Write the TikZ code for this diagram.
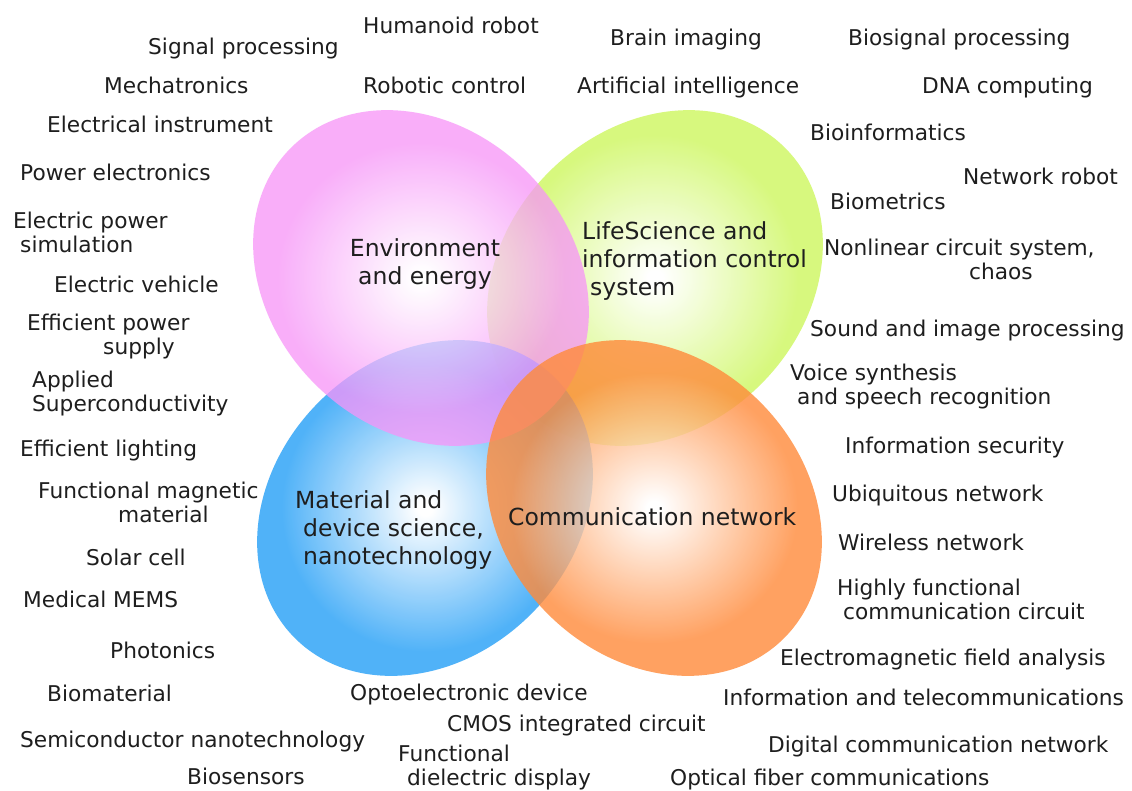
\documentclass[tikz,border=0pt]{standalone}
\usepackage{fontspec}
\setmainfont{DejaVu Sans}

% fill colours of the four research fields
\definecolor{pinkc}{RGB}{247,148,248}
\definecolor{greenc}{RGB}{212,248,116}
\definecolor{bluec}{RGB}{66,172,248}
\definecolor{orangec}{RGB}{255,138,58}
\definecolor{ink}{RGB}{30,30,30}

% soft white-centred glows
\pgfdeclareradialshading{pinkglow}{\pgfpoint{0bp}{0bp}}{color(0bp)=(white); color(1bp)=(white); color(19bp)=(pinkc); color(50bp)=(pinkc)}
\pgfdeclareradialshading{greenglow}{\pgfpoint{0bp}{0bp}}{color(0bp)=(white); color(1bp)=(white); color(19bp)=(greenc); color(50bp)=(greenc)}
\pgfdeclareradialshading{blueglow}{\pgfpoint{0bp}{0bp}}{color(0bp)=(white); color(1bp)=(white); color(19bp)=(bluec); color(50bp)=(bluec)}
\pgfdeclareradialshading{orangeglow}{\pgfpoint{0bp}{0bp}}{color(0bp)=(white); color(1bp)=(white); color(19bp)=(orangec); color(50bp)=(orangec)}

\begin{document}
\begin{tikzpicture}[x=1pt,y=-1pt,
  lbl/.style={inner sep=0pt, anchor=base west, text=ink, font=\fontsize{21.7}{24}\selectfont},
  lblm/.style={lbl, anchor=north west, align=left},
  hub/.style={inner sep=0pt, text=ink, font=\fontsize{23.5}{28}\selectfont},
  field/.style={fill opacity=#1}]
\useasboundingbox (0,0) rectangle (1132,790);
\fill[white] (0,0) rectangle (1132,790);

% ---- the four overlapping fields ----
\begin{scope}[shift={(655,278)}, rotate=45]
  \shade[shading=greenglow, field=0.92] (0,0) ellipse (184 and 150);
\end{scope}
\begin{scope}[shift={(425,508)}, rotate=45]
  \shade[shading=blueglow, field=0.92] (0,0) ellipse (184 and 150);
\end{scope}
\begin{scope}[shift={(421,278)}, rotate=-45]
  \shade[shading=pinkglow, field=0.75] (0,0) ellipse (184 and 150);
\end{scope}
\begin{scope}[shift={(654,508)}, rotate=-45]
  \shade[shading=orangeglow, field=0.8] (0,0) ellipse (184 and 150);
\end{scope}

% ---- field titles ----
\node[hub, anchor=north, align=center] (env) at (425,238) {Environment\\and energy};
\node[hub, anchor=north west, align=left] (life) at (582,221) {LifeScience and\\information control\\\hspace*{8pt}system};
\node[hub, anchor=north west, align=left] (mat) at (295,490) {Material and\\\hspace*{8pt}device science,\\\hspace*{8pt}nanotechnology};
\node[hub, anchor=base west] (comm) at (508,525) {Communication network};

% ---- topics, top row ----
\node[lbl] (hum) at (363,33) {Humanoid robot};
\node[lbl] (sig) at (148,54) {Signal processing};
\node[lbl] (brain) at (610,45) {Brain imaging};
\node[lbl] (biosig) at (848,45) {Biosignal processing};
\node[lbl] (mech) at (104,93) {Mechatronics};
\node[lbl] (robctl) at (363,93) {Robotic control};
\node[lbl] (ai) at (577,93) {Artificial intelligence};
\node[lbl] (dna) at (922,93) {DNA computing};

% ---- left column ----
\node[lbl] (elinst) at (47,132) {Electrical instrument};
\node[lbl] (powel) at (20,180) {Power electronics};
\node[lblm] (elpow) at (13,211.5) {Electric power\\\hspace*{7pt}simulation};
\node[lbl] (elveh) at (54,292) {Electric vehicle};
\node[lblm] (effpow) at (27,313.5) {Efficient power\\\hspace*{76pt}supply};
\node[lblm] (supcon) at (32,370.5) {Applied\\Superconductivity};
\node[lbl] (light) at (20,456) {Efficient lighting};
\node[lblm] (magmat) at (38,481.5) {Functional magnetic\\\hspace*{80pt}material};
\node[lbl] (solar) at (86,565) {Solar cell};
\node[lbl] (mems) at (23,607) {Medical MEMS};
\node[lbl] (photon) at (110,658) {Photonics};
\node[lbl] (biomat) at (47,701) {Biomaterial};
\node[lbl] (semi) at (20,747) {Semiconductor nanotechnology};
\node[lbl] (biosens) at (187,784) {Biosensors};

% ---- bottom middle ----
\node[lbl] (opto) at (350,700) {Optoelectronic device};
\node[lbl] (cmos) at (447,731) {CMOS integrated circuit};
\node[lblm] (diel) at (398,745) {Functional\\\hspace*{9pt}dielectric display};

% ---- right column ----
\node[lbl] (bioinf) at (810,140) {Bioinformatics};
\node[lbl] (netrob) at (963,184) {Network robot};
\node[lbl] (biomet) at (830,209) {Biometrics};
\node[lblm] (nonlin) at (824,238.5) {Nonlinear circuit system,\\\hspace*{145pt}chaos};
\node[lbl] (sound) at (810,336) {Sound and image processing};
\node[lblm] (voice) at (790,363.5) {Voice synthesis\\\hspace*{7pt}and speech recognition};
\node[lbl] (infsec) at (845,453) {Information security};
\node[lbl] (ubiq) at (832,501) {Ubiquitous network};
\node[lbl] (wless) at (838,550) {Wireless network};
\node[lblm] (hfcc) at (837,578.5) {Highly functional\\\hspace*{6pt}communication circuit};
\node[lbl] (emf) at (780,665) {Electromagnetic field analysis};
\node[lbl] (infotel) at (723,705) {Information and telecommunications};
\node[lbl] (digi) at (768,752) {Digital communication network};
\node[lbl] (fiber) at (670,785) {Optical fiber communications};
\end{tikzpicture}
\end{document}
